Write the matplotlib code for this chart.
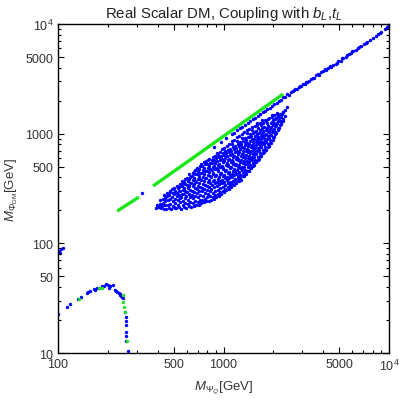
import numpy as np
import matplotlib.pyplot as plt
from matplotlib.ticker import FixedLocator, FixedFormatter, NullFormatter

plt.rcParams['font.family'] = ['Liberation Sans', 'DejaVu Sans']
plt.rcParams['mathtext.fontset'] = 'custom'
plt.rcParams['mathtext.rm'] = 'Liberation Sans'
plt.rcParams['mathtext.it'] = 'Liberation Sans:italic'

# scan points, (M_PsiQ, M_PhiDM) in GeV
cloud_pts = [
    (392, 210), (399, 224), (405, 215),
    (420, 209), (428, 232), (431, 252), (422, 220),
    (450, 205), (459, 226), (462, 248), (453, 271), (458, 290),
    (484, 204), (492, 219), (495, 241), (486, 262), (493, 287), (489, 312),
    (518, 208), (528, 223), (531, 246), (520, 268), (527, 289), (534, 317), (522, 336),
    (556, 207), (566, 226), (570, 243), (555, 262), (563, 283), (572, 305), (559, 330), (566, 356), (560, 372),
    (596, 211), (607, 229), (611, 250), (597, 271), (605, 291), (614, 320), (600, 343), (608, 369), (603, 398),
    (639, 214), (650, 231), (655, 257), (641, 278), (648, 302), (658, 330), (640, 355), (652, 381), (646, 412), (655, 440),
    (686, 222), (697, 238), (701, 262), (688, 286), (695, 311), (704, 335), (684, 362), (699, 390), (690, 425), (703, 458), (694, 488),
    (734, 231), (745, 249), (750, 271), (737, 297), (743, 322), (755, 350), (732, 378), (748, 402), (739, 437), (752, 468), (744, 504), (736, 532),
    (788, 241), (800, 262), (806, 284), (790, 309), (798, 336), (810, 362), (785, 391), (802, 420), (793, 454), (808, 489), (797, 525), (789, 566), (804, 580),
    (845, 247), (858, 266), (864, 290), (846, 316), (855, 343), (868, 371), (842, 402), (860, 430), (850, 465), (866, 500), (855, 540), (847, 577), (861, 615),
    (906, 262), (920, 283), (926, 309), (908, 333), (917, 360), (930, 389), (903, 420), (922, 452), (912, 486), (928, 522), (916, 560), (906, 598), (923, 637), (913, 671),
    (971, 280), (986, 301), (993, 326), (975, 352), (982, 378), (998, 410), (968, 441), (988, 473), (978, 508), (994, 546), (983, 588), (971, 627), (990, 668), (980, 725),
    (1040, 304), (1057, 327), (1064, 352), (1043, 379), (1052, 406), (1069, 437), (1037, 470), (1059, 503), (1048, 540), (1066, 580), (1054, 622), (1041, 664), (1061, 708), (1050, 770),
    (1114, 323), (1133, 345), (1140, 371), (1118, 399), (1128, 428), (1146, 461), (1110, 496), (1135, 532), (1123, 570), (1143, 612), (1130, 655), (1116, 700), (1137, 748), (1125, 800), (1131, 860),
    (1195, 352), (1215, 376), (1223, 402), (1199, 432), (1209, 463), (1229, 497), (1191, 533), (1218, 570), (1205, 610), (1226, 653), (1212, 698), (1197, 746), (1220, 797), (1207, 850), (1214, 930),
    (1281, 382), (1303, 407), (1311, 436), (1285, 468), (1297, 500), (1318, 536), (1277, 575), (1306, 614), (1292, 657), (1314, 702), (1299, 750), (1283, 800), (1308, 853), (1294, 910), (1300, 995),
    (1373, 433), (1396, 461), (1405, 492), (1377, 525), (1390, 560), (1413, 598), (1368, 638), (1400, 680), (1385, 726), (1408, 774), (1392, 826), (1375, 880), (1402, 940), (1387, 1010), (1395, 1085),
    (1472, 482), (1497, 512), (1506, 545), (1476, 580), (1490, 617), (1515, 657), (1466, 699), (1500, 744), (1484, 792), (1509, 842), (1493, 895), (1475, 952), (1503, 1012), (1487, 1080), (1495, 1160),
    (1578, 546), (1605, 580), (1614, 616), (1582, 655), (1597, 696), (1624, 740), (1572, 786), (1608, 835), (1591, 886), (1618, 940), (1600, 998), (1581, 1060), (1611, 1125), (1594, 1200), (1602, 1240),
    (1692, 632), (1721, 670), (1730, 710), (1696, 752), (1712, 797), (1741, 845), (1686, 895), (1724, 948), (1706, 1004), (1735, 1063), (1716, 1126), (1695, 1192), (1727, 1262), (1709, 1320),
    (1814, 717), (1845, 758), (1855, 802), (1818, 848), (1835, 897), (1866, 948), (1807, 1002), (1848, 1058), (1829, 1118), (1860, 1180), (1840, 1245), (1817, 1310), (1851, 1375),
    (1945, 830), (1978, 876), (1988, 925), (1949, 976), (1967, 1030), (2000, 1086), (1937, 1145), (1981, 1206), (1960, 1270), (1994, 1338), (1972, 1410), (1950, 1470),
    (2084, 1023), (2120, 1077), (2131, 1133), (2089, 1192), (2108, 1254), (2143, 1318), (2076, 1385), (2123, 1455), (2101, 1530),
    (2234, 1235), (2272, 1298), (2284, 1364), (2239, 1432), (2260, 1505), (2295, 1590),
    (2289, 1580), (2355, 1447), (2256, 1300), (2105, 1510), (2422, 1746), (2340, 1660),
]

cloud2_pts = [
    (408, 213), (413, 230), (411, 246),
    (437, 207), (443, 223), (441, 241), (445, 258), (438, 274),
    (469, 212), (476, 230), (474, 252), (470, 275), (477, 296), (473, 303),
    (503, 213), (510, 233), (506, 255), (501, 279), (509, 300), (505, 322), (512, 210),
    (539, 215), (546, 236), (544, 257), (538, 278), (548, 298), (541, 326), (547, 348), (537, 300),
    (577, 216), (585, 235), (583, 258), (576, 280), (588, 300), (580, 318), (586, 345), (579, 366), (584, 388),
    (619, 218), (628, 240), (625, 262), (618, 284), (630, 307), (622, 333), (627, 358), (617, 384), (629, 405), (621, 425),
    (663, 217), (672, 242), (670, 268), (662, 292), (675, 318), (666, 344), (671, 371), (660, 398), (676, 425), (667, 450), (673, 467),
    (711, 226), (720, 246), (718, 276), (709, 302), (723, 328), (714, 356), (719, 384), (707, 414), (725, 442), (713, 474), (720, 510),
    (762, 236), (773, 256), (770, 286), (760, 313), (776, 340), (766, 368), (771, 398), (758, 428), (778, 458), (764, 490), (772, 524), (767, 556),
    (817, 245), (829, 268), (825, 297), (814, 325), (832, 352), (820, 382), (827, 412), (812, 444), (834, 476), (819, 510), (828, 545), (821, 590),
    (876, 255), (888, 276), (884, 302), (871, 326), (891, 352), (879, 380), (886, 410), (869, 440), (893, 472), (875, 506), (887, 542), (880, 580), (885, 630),
    (939, 271), (952, 292), (948, 318), (934, 345), (956, 372), (942, 400), (950, 432), (932, 464), (958, 498), (938, 534), (951, 572), (943, 616), (949, 680),
    (1006, 292), (1021, 315), (1017, 340), (1001, 366), (1026, 393), (1010, 423), (1019, 455), (999, 488), (1029, 522), (1005, 558), (1022, 598), (1012, 640), (1018, 690), (1008, 745),
    (1079, 314), (1095, 337), (1090, 363), (1073, 391), (1100, 420), (1083, 451), (1092, 484), (1070, 518), (1103, 554), (1077, 592), (1096, 634), (1085, 680), (1091, 730), (1081, 800),
    (1156, 338), (1174, 362), (1169, 389), (1150, 418), (1180, 448), (1161, 480), (1171, 515), (1146, 551), (1184, 590), (1154, 632), (1176, 676), (1163, 724), (1170, 780), (1158, 880),
    (1240, 367), (1260, 392), (1255, 420), (1234, 450), (1266, 482), (1246, 516), (1257, 552), (1230, 590), (1270, 632), (1239, 676), (1262, 724), (1248, 776), (1256, 840), (1244, 950),
    (1330, 408), (1351, 434), (1346, 464), (1323, 496), (1357, 530), (1336, 566), (1348, 604), (1318, 646), (1362, 690), (1328, 738), (1353, 790), (1339, 846), (1347, 910), (1334, 1030),
    (1425, 458), (1447, 486), (1442, 518), (1417, 552), (1454, 588), (1431, 626), (1444, 668), (1411, 712), (1459, 758), (1422, 810), (1450, 864), (1435, 925), (1443, 990), (1429, 1110),
    (1528, 514), (1552, 546), (1547, 580), (1519, 618), (1559, 658), (1534, 700), (1549, 745), (1513, 795), (1564, 846), (1525, 900), (1555, 960), (1538, 1030), (1546, 1180),
    (1637, 590), (1663, 626), (1657, 664), (1628, 706), (1670, 750), (1644, 798), (1660, 848), (1622, 902), (1676, 958), (1634, 1020), (1667, 1090), (1651, 1260),
    (1756, 676), (1784, 716), (1778, 760), (1746, 808), (1791, 858), (1763, 910), (1781, 966), (1740, 1026), (1797, 1090), (1752, 1160), (1775, 1330),
    (1882, 776), (1912, 822), (1905, 870), (1871, 922), (1920, 978), (1889, 1038), (1908, 1100), (1865, 1170), (1926, 1250), (1893, 1400),
    (2017, 930), (2049, 985), (2041, 1045), (2005, 1110), (2058, 1180), (2024, 1260), (2045, 1350), (2012, 1480),
    (2163, 1135), (2197, 1210), (2188, 1300), (2152, 1400), (2203, 1520),
]

band_pts = [
    (880, 760), (960, 840), (1040, 910), (1120, 985), (1160, 1010), (1210, 1070),
    (1260, 1120), (1300, 1150), (1350, 1200), (1400, 1250), (1450, 1300), (1500, 1350),
    (1550, 1390), (1610, 1450), (1660, 1500), (1720, 1560), (1780, 1620), (1840, 1680),
    (1900, 1730), (1960, 1790), (2020, 1850), (2090, 1920), (2150, 1990), (2210, 2040),
    (2290, 2160), (2350, 2180), (2420, 2290), (2480, 2270), (2560, 2390), (2620, 2430),
    (2700, 2530), (2780, 2560), (2850, 2670), (2930, 2700), (3020, 2820), (3100, 2860),
    (3200, 2980), (3300, 3020), (3400, 3160), (3520, 3240), (3640, 3400), (3760, 3450),
    (3880, 3620), (4000, 3760), (4150, 3830), (4300, 4010), (4450, 4060), (4600, 4270),
    (4750, 4350), (4900, 4560), (5100, 4640), (5300, 4900), (5500, 5020), (5700, 5290),
    (5900, 5400), (6100, 5650), (6300, 5800), (6500, 6010), (6800, 6300), (7100, 6530),
    (7400, 6880), (7700, 7150), (8000, 7480), (8300, 7800), (8600, 8100), (9000, 8500),
    (9400, 8950), (9700, 9300), (9950, 9700),
    (2650, 2500), (2900, 2740), (3150, 2960), (3450, 3250), (3700, 3470), (4100, 3900),
    (4400, 4130), (4850, 4420), (5200, 4850), (5600, 5200), (6000, 5650), (6600, 6200),
    (7300, 6700), (8800, 8350),
]

arc_pts = [
    (100, 22.7), (113, 26.2), (118, 28.0), (132, 31.1), (138, 32.4), (150, 35.5),
    (152, 36.0), (155, 36.5), (165, 38.3), (168, 37.5), (172, 39.5), (177, 39.1),
    (185, 40.8), (190, 41.0), (195, 42.6), (200, 42.0), (204, 39.1), (207, 40.5),
    (215, 41.7), (220, 37.5), (225, 36.5), (228, 36.0), (232, 35.5), (236, 34.0),
    (238, 34.5), (241, 33.0), (244, 32.4), (246, 31.5), (254, 23.6), (256, 21.5),
    (258, 18.0), (257, 19.5), (259, 15.5), (258, 14.3), (258, 12.9), (265, 10.4),
    (101.4, 85.1), (104.3, 89.1), (107.2, 91.1), (102.8, 81.3), (322, 288),
]

green_arc_pts = [
    (134, 31.1), (177, 39.1), (184, 39.1), (247, 33.8), (247, 29.2),
    (251, 26.3), (254, 23.6), (261, 12.9),
]

green_low_x = [228, 308]
green_low_y = [197, 264]
green_main_x = [375, 600, 1000, 1500, 2290]
green_main_y = [333, 549, 948, 1459, 2296]

x_major = [100, 500, 1000, 5000, 10000]
x_major_labels = ['100', '500', '1000', '5000', '$10^4$']
y_major = [10, 50, 100, 500, 1000, 5000, 10000]
y_major_labels = ['10', '50', '100', '500', '1000', '5000', '$10^4$']

blue = (0.0, 0.0, 1.0)
green = (0.1, 0.9, 0.1)

fig = plt.figure(figsize=(3.99, 4.02), dpi=100)
ax = fig.add_axes([0.1454, 0.1194, 0.8296, 0.8184])

for pts in (cloud_pts, cloud2_pts, band_pts, arc_pts):
    px, py = zip(*pts)
    ax.scatter(px, py, s=6, color=blue, marker='o', linewidths=0)

gx, gy = zip(*green_arc_pts)
ax.scatter(gx, gy, s=6, color=green, marker='o', linewidths=0)
ax.plot(green_low_x, green_low_y, color=green, lw=2.4, solid_capstyle='butt')
ax.plot(green_main_x, green_main_y, color=green, lw=2.4, solid_capstyle='butt')

ax.set_xscale('log')
ax.set_yscale('log')
ax.set_xlim(100, 10000)
ax.set_ylim(10, 10000)

ax.xaxis.set_major_locator(FixedLocator(x_major))
ax.xaxis.set_major_formatter(FixedFormatter(x_major_labels))
ax.yaxis.set_major_locator(FixedLocator(y_major))
ax.yaxis.set_major_formatter(FixedFormatter(y_major_labels))
x_minor = [m * d for d in (100, 1000) for m in (2, 3, 4, 6, 7, 8, 9)]
y_minor = [m * d for d in (10, 100, 1000) for m in (2, 3, 4, 6, 7, 8, 9)]
ax.xaxis.set_minor_locator(FixedLocator(x_minor))
ax.yaxis.set_minor_locator(FixedLocator(y_minor))
ax.xaxis.set_minor_formatter(NullFormatter())
ax.yaxis.set_minor_formatter(NullFormatter())

ax.tick_params(which='both', direction='in', top=True, right=True,
               labelsize=9, labelcolor='#333333', width=0.8)
ax.tick_params(which='major', length=4.5)
ax.tick_params(which='minor', length=2.5)
for sp in ax.spines.values():
    sp.set_linewidth(1.0)

ax.set_title(r'Real Scalar DM, Coupling with $b_L$,$t_L$', fontsize=10.8,
             color='#222222', pad=5)
ax.set_xlabel(r'$M_{\Psi_Q}$[GeV]', fontsize=9.5, color='#333333')
ax.set_ylabel(r'$M_{\Phi_{\mathrm{DM}}}$[GeV]', fontsize=9.5, color='#333333')

fig.savefig('out.png', dpi=100)
